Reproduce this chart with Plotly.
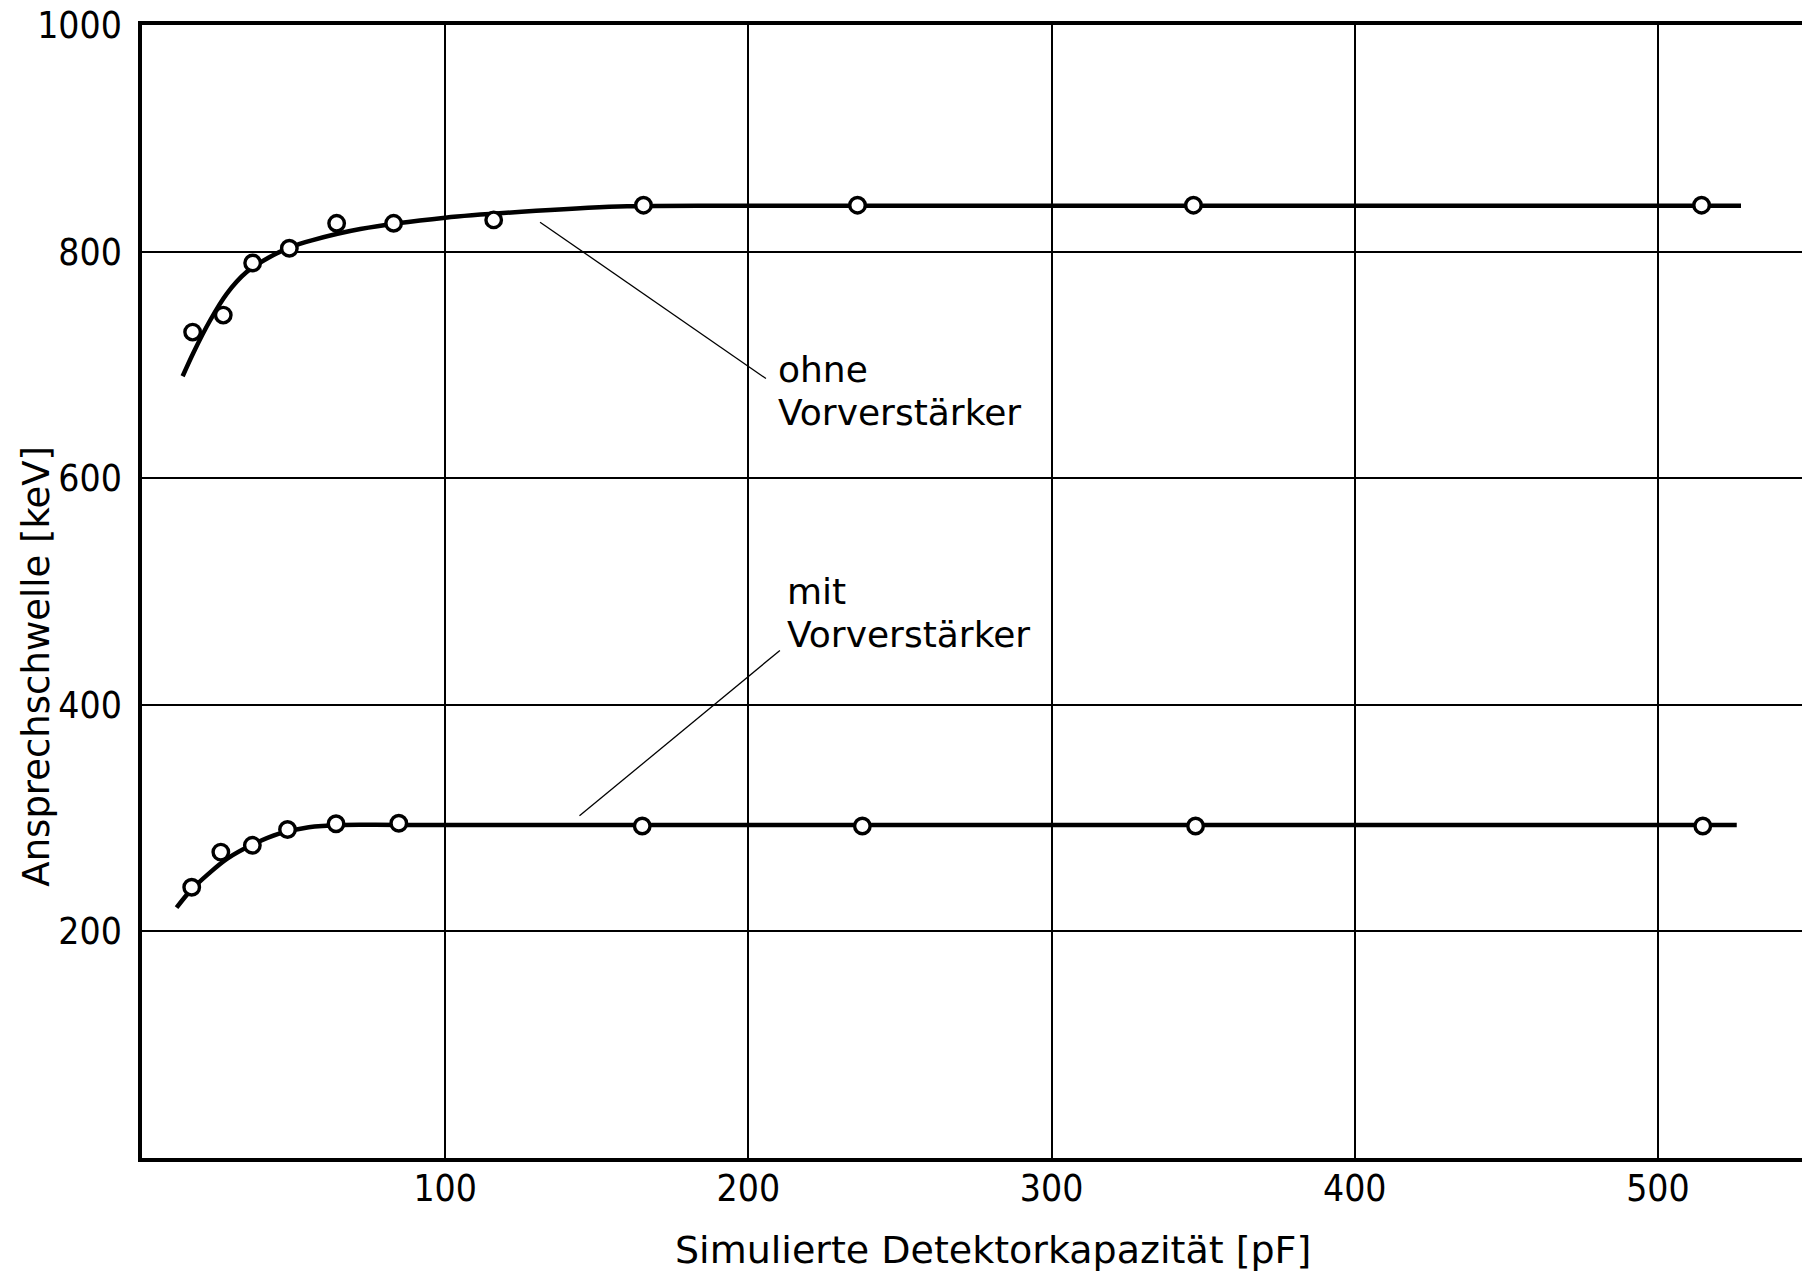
import plotly.graph_objects as go

# measured points
ohne_x = [16.7, 26.8, 36.5, 48.6, 64.2, 83.0, 116.0, 165.4, 236.0, 346.8, 514.4]
ohne_y = [729, 744, 790, 803, 825, 825, 828, 841, 841, 841, 841]
mit_x = [16.4, 26.0, 36.4, 48.0, 64.0, 84.7, 165.0, 237.6, 347.5, 514.8]
mit_y = [239, 270, 276, 290, 295, 295.5, 293, 293, 293, 293]

# drawn fit curves
ohne_curve_x = [13.4, 17, 22.4, 28, 34.5, 42, 49, 56, 72, 100, 130, 160, 200, 300, 527.4]
ohne_curve_y = [690, 711, 739, 763, 782, 795, 804, 810, 820, 830, 836, 840, 840.5, 840.5, 840.5]
mit_curve_x = [11.4, 16, 22, 28, 36, 45, 55, 66, 85, 200, 526]
mit_curve_y = [221, 236, 251, 264, 276, 286, 292, 294, 294, 294, 294]

# labels and leader lines
label_text = ["ohne", "Vorverstärker", "mit", "Vorverstärker"]
label_x = [209, 209, 212, 212]
label_y = [696, 658, 500, 462]
leader_x0 = [131.3, 144.3]
leader_y0 = [826, 302]
leader_x1 = [205.8, 210.4]
leader_y1 = [688, 448]

x_ticks = [100, 200, 300, 400, 500]
y_ticks = [200, 400, 600, 800, 1000]
x_title = "Simulierte Detektorkapazität [pF]"
y_title = "Ansprechschwelle [keV]"

fig = go.Figure()
for cx, cy in [(ohne_curve_x, ohne_curve_y), (mit_curve_x, mit_curve_y)]:
    fig.add_trace(go.Scatter(x=cx, y=cy, mode="lines",
                             line=dict(color="black", width=4.5, shape="spline", smoothing=0.9),
                             hoverinfo="skip", showlegend=False))
for px, py in [(ohne_x, ohne_y), (mit_x, mit_y)]:
    fig.add_trace(go.Scatter(x=px, y=py, mode="markers",
                             marker=dict(symbol="circle", size=15.5, color="white",
                                         line=dict(color="black", width=3.4)),
                             showlegend=False))

for i in range(len(leader_x0)):
    fig.add_shape(type="line", x0=leader_x0[i], y0=leader_y0[i], x1=leader_x1[i], y1=leader_y1[i],
                  line=dict(color="black", width=1.3))
for t, x, y in zip(label_text, label_x, label_y):
    fig.add_annotation(x=x, y=y, text=t, showarrow=False, xanchor="left", yanchor="middle",
                       align="left", font=dict(family="DejaVu Sans", size=36, color="black"))

tickfont = dict(family="DejaVu Sans Condensed, DejaVu Sans, sans-serif", size=37, color="black")
titlefont = dict(family="DejaVu Sans", size=38, color="black")

fig.add_annotation(xref="paper", yref="paper", x=0.511, y=-0.0812, text=x_title, showarrow=False,
                   xanchor="center", yanchor="middle", font=titlefont)
fig.add_annotation(xref="paper", yref="paper", x=-0.063, y=0.4337, text=y_title, showarrow=False,
                   textangle=-90, xanchor="center", yanchor="middle",
                   font=dict(family="DejaVu Sans", size=37, color="black"))

fig.update_xaxes(range=[0, 549.5], tickvals=x_ticks, ticktext=[str(v) for v in x_ticks],
                 showgrid=True, gridcolor="black", gridwidth=1.6, zeroline=False,
                 showline=True, linecolor="black", linewidth=3.5, mirror=True,
                 ticks="", tickfont=tickfont, ticklabelstandoff=-5, ticklabeloverflow="allow")
fig.update_yaxes(range=[0, 1000.05], tickvals=y_ticks, ticktext=[str(v) for v in y_ticks],
                 showgrid=True, gridcolor="black", gridwidth=1.6, zeroline=False,
                 showline=True, linecolor="black", linewidth=3.5, mirror=True,
                 ticks="", tickfont=tickfont, ticklabelstandoff=9, ticklabeloverflow="allow")

fig.update_layout(width=1810, height=1281, plot_bgcolor="white", paper_bgcolor="white",
                  margin=dict(l=134, r=10, t=17, b=131, autoexpand=False))

fig.write_html("out.html")
